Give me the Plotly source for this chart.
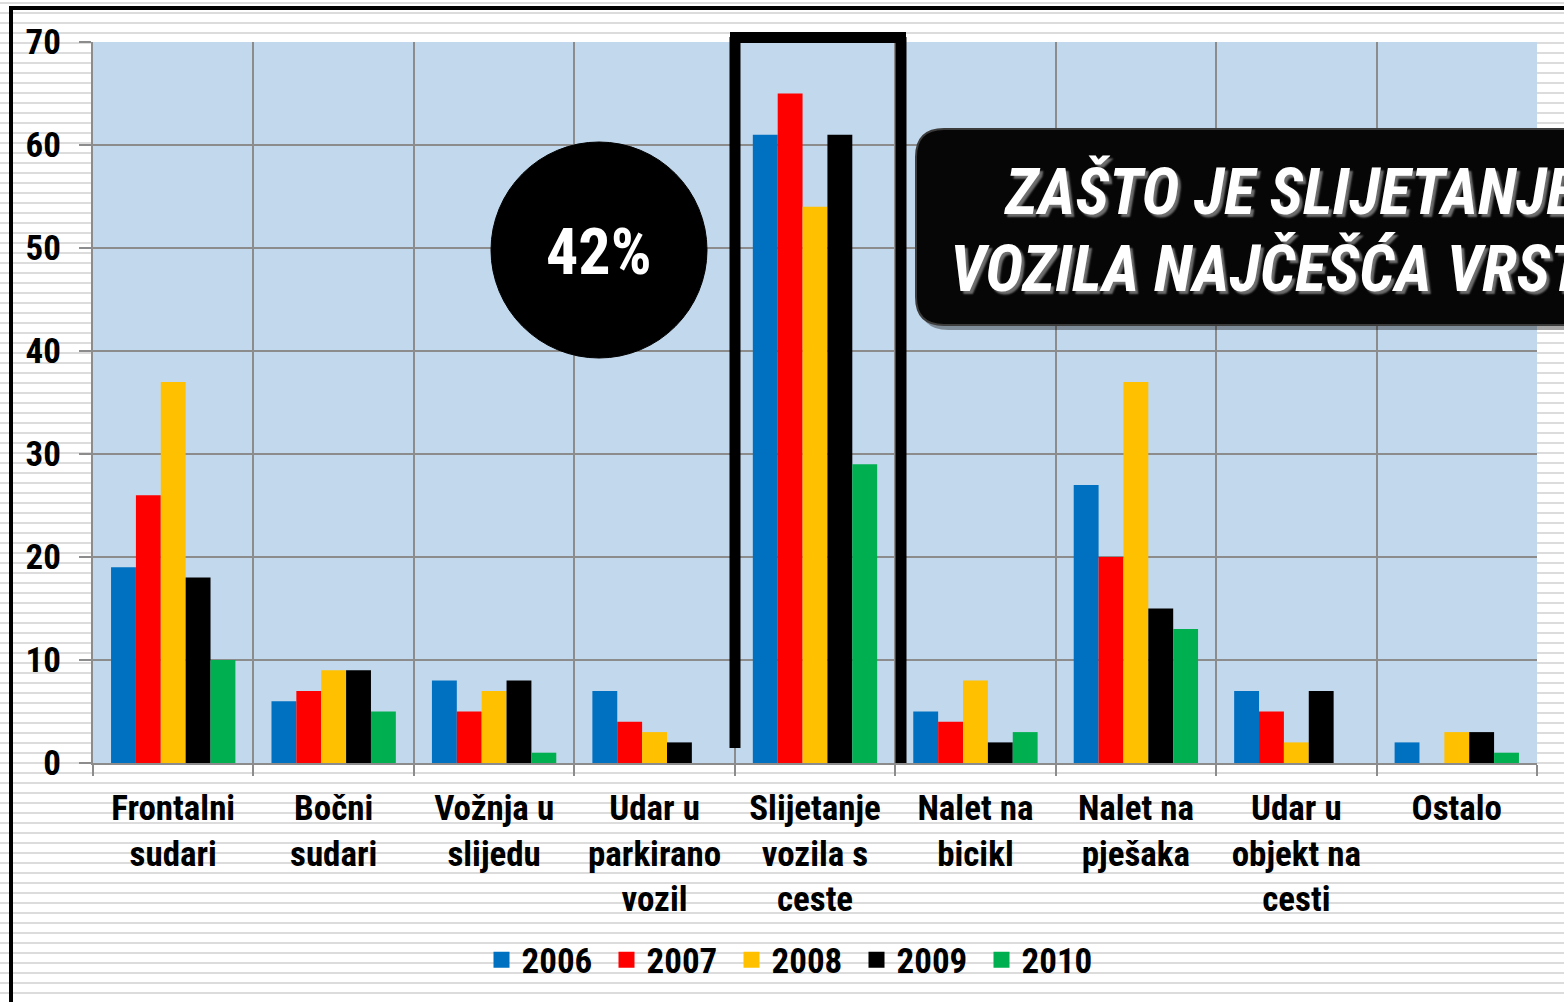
import plotly.graph_objects as go

categories = ["Frontalni<br>sudari", "Bočni<br>sudari", "Vožnja u<br>slijedu",
              "Udar u<br>parkirano<br>vozil", "Slijetanje<br>vozila s<br>ceste",
              "Nalet na<br>bicikl", "Nalet na<br>pješaka", "Udar u<br>objekt na<br>cesti",
              "Ostalo"]
years = ["2006", "2007", "2008", "2009", "2010"]
v2006 = [19, 6, 8, 7, 61, 5, 27, 7, 2]
v2007 = [26, 7, 5, 4, 65, 4, 20, 5, 0]
v2008 = [37, 9, 7, 3, 54, 8, 37, 2, 3]
v2009 = [18, 9, 8, 2, 61, 2, 15, 7, 3]
v2010 = [10, 5, 1, 0, 29, 3, 13, 0, 1]
series = [v2006, v2007, v2008, v2009, v2010]
colors = ["#0070C0", "#FF0000", "#FFC000", "#000000", "#00B050"]
y_ticks = [0, 10, 20, 30, 40, 50, 60, 70]
badge_text = "42%"
title_lines = ["ZAŠTO JE SLIJETANJE", "VOZILA NAJČEŠĆA VRSTA NESREĆA?"]

FONT = "Liberation Sans Narrow, Arial Narrow, Roboto Condensed, Liberation Sans, sans-serif"
W_PAGE, H_PAGE = 1564, 1002
L, R, T, B = 93, 1537, 42, 763
PW, PH = R - L, B - T


def px(x):
    return (x - L) / PW


def py(y):
    return (B - y) / PH


fig = go.Figure()
for name, vals, col in zip(years, series, colors):
    fig.add_trace(go.Bar(x=categories, y=vals, name=name, marker_color=col,
                         marker_line_width=0, showlegend=False))
for name, col in zip(years, colors):
    fig.add_trace(go.Scatter(x=[None], y=[None], mode="markers", name=name,
                             marker=dict(symbol="square", size=18, color=col)))

shapes = []
# striped page background
for yy in range(3, H_PAGE, 10):
    shapes.append(dict(type="line", xref="paper", yref="paper", x0=px(0), x1=px(W_PAGE),
                       y0=py(yy), y1=py(yy), line=dict(color="#DCDCDC", width=2), layer="below"))
# plot area background
shapes.append(dict(type="rect", xref="paper", yref="paper", x0=0, x1=1, y0=0, y1=1,
                   fillcolor="#C2D8EC", line=dict(width=0), layer="below"))
# page frame
shapes.append(dict(type="line", xref="paper", yref="paper", x0=px(11), x1=px(11),
                   y0=py(6), y1=py(H_PAGE), line=dict(color="black", width=4)))
shapes.append(dict(type="line", xref="paper", yref="paper", x0=px(9), x1=px(W_PAGE),
                   y0=py(8), y1=py(8), line=dict(color="black", width=4)))
# highlight frame around Slijetanje
shapes.append(dict(type="line", xref="paper", yref="paper", x0=px(735), x1=px(735),
                   y0=py(37), y1=py(748), line=dict(color="black", width=11)))
shapes.append(dict(type="line", xref="paper", yref="paper", x0=px(901), x1=px(901),
                   y0=py(37), y1=py(763), line=dict(color="black", width=11)))
shapes.append(dict(type="line", xref="paper", yref="paper", x0=px(730), x1=px(906),
                   y0=py(37.5), y1=py(37.5), line=dict(color="black", width=11)))
# circle badge
shapes.append(dict(type="circle", xref="paper", yref="paper", x0=px(491), x1=px(707),
                   y0=py(358), y1=py(142), fillcolor="black", line=dict(color="black", width=1)))


def rounded_path(x0, y0, x1, y1, r):
    pts = [
        f"M{px(x0 + r)},{py(y0)}",
        f"L{px(x1 - r)},{py(y0)}",
        f"Q{px(x1)},{py(y0)} {px(x1)},{py(y0 + r)}",
        f"L{px(x1)},{py(y1 - r)}",
        f"Q{px(x1)},{py(y1)} {px(x1 - r)},{py(y1)}",
        f"L{px(x0 + r)},{py(y1)}",
        f"Q{px(x0)},{py(y1)} {px(x0)},{py(y1 - r)}",
        f"L{px(x0)},{py(y0 + r)}",
        f"Q{px(x0)},{py(y0)} {px(x0 + r)},{py(y0)}",
        "Z",
    ]
    return " ".join(pts)


shapes.append(dict(type="path", xref="paper", yref="paper",
                   path=rounded_path(920, 134, 1620, 330, 28),
                   fillcolor="rgba(0,0,0,0.35)", line=dict(width=0)))
shapes.append(dict(type="path", xref="paper", yref="paper",
                   path=rounded_path(916, 129, 1620, 325, 28),
                   fillcolor="#060606", line=dict(color="#3C3C3C", width=2)))

annotations = [
    dict(text=badge_text, xref="paper", yref="paper", x=px(599), y=py(252),
         xanchor="center", yanchor="middle", showarrow=False,
         font=dict(family=FONT, size=64, color="white", weight="bold")),
    dict(text=title_lines[0], xref="paper", yref="paper", x=px(1002), y=py(192),
         xanchor="left", yanchor="middle", showarrow=False,
         font=dict(family=FONT, size=64, color="white", weight="bold", style="italic",
                   shadow="3px 3px 2px #6E6E6E")),
    dict(text=title_lines[1], xref="paper", yref="paper", x=px(948), y=py(269),
         xanchor="left", yanchor="middle", showarrow=False,
         font=dict(family=FONT, size=64, color="white", weight="bold", style="italic",
                   shadow="3px 3px 2px #6E6E6E")),
]

grid = "#8C8C8C"
fig.update_layout(
    width=W_PAGE, height=H_PAGE,
    margin=dict(l=L, r=W_PAGE - R, t=T, b=H_PAGE - B),
    paper_bgcolor="white", plot_bgcolor="rgba(0,0,0,0)",
    barmode="group", bargap=0.225, bargroupgap=0,
    font=dict(family=FONT, size=35, color="black", weight="bold"),
    shapes=shapes, annotations=annotations,
    legend=dict(orientation="h", x=px(794), y=py(960), xanchor="center", yanchor="middle",
                bgcolor="rgba(0,0,0,0)", font=dict(family=FONT, size=35, color="black", weight="bold"),
                entrywidth=80, itemsizing="trace"),
    xaxis=dict(tickson="boundaries", ticks="outside", ticklen=11, tickwidth=2, tickcolor=grid,
               showgrid=True, gridcolor=grid, gridwidth=2, showline=True, linecolor=grid,
               linewidth=2, tickfont=dict(family=FONT, size=35, color="black", weight="bold"),
               ticklabelstandoff=13, tickangle=0),
    yaxis=dict(range=[0, 70], tickvals=y_ticks, ticks="outside", ticklen=12, tickwidth=2,
               tickcolor=grid, showgrid=True, gridcolor=grid, gridwidth=2, showline=True,
               linecolor=grid, linewidth=2, zeroline=False,
               tickfont=dict(family=FONT, size=35, color="black", weight="bold"),
               ticklabelstandoff=11),
)

fig.write_html("out.html", config={"displayModeBar": False},
               post_script="document.body.style.margin='0';document.body.style.overflow='hidden';")
